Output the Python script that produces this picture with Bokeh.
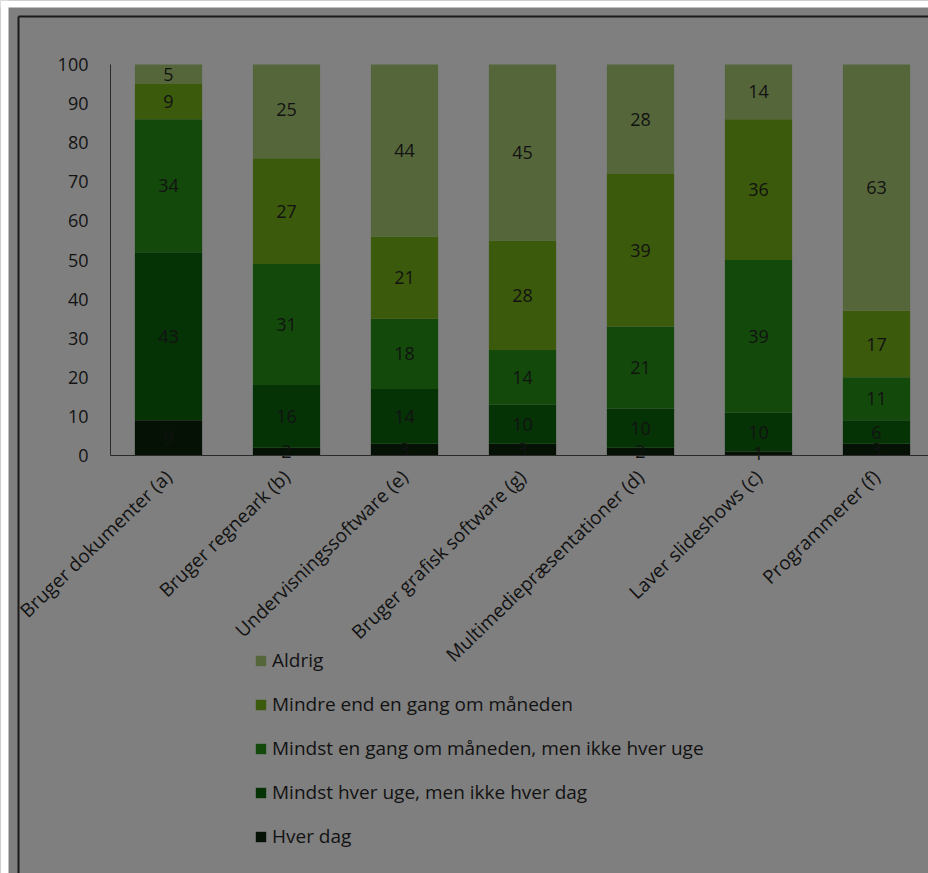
from bokeh.plotting import figure
from bokeh.models import Range1d, FixedTicker, Legend, LegendItem, ColumnDataSource
from bokeh.core.properties import value
from bokeh.embed import file_html
from bokeh.resources import INLINE

categories = ["Bruger dokumenter (a)", "Bruger regneark (b)", "Undervisningssoftware (e)",
              "Bruger grafisk software (g)", "Multimediepræsentationer (d)",
              "Laver slideshows (c)", "Programmerer (f)"]
series_names = ["Hver dag", "Mindst hver uge, men ikke hver dag",
                "Mindst en gang om måneden, men ikke hver uge",
                "Mindre end en gang om måneden", "Aldrig"]
hver_dag = [9, 2, 3, 3, 2, 1, 3]
hver_uge = [43, 16, 14, 10, 10, 10, 6]
hver_maaned = [34, 31, 18, 14, 21, 39, 11]
mindre_end_maaned = [9, 27, 21, 28, 39, 36, 17]
aldrig = [5, 25, 44, 45, 28, 14, 63]
y_ticks = [0, 10, 20, 30, 40, 50, 60, 70, 80, 90, 100]

series = [hver_dag, hver_uge, hver_maaned, mindre_end_maaned, aldrig]
colors = ["#041104", "#063306", "#134a0b", "#3c5a0c", "#56663b"]
BG = "#7f7f7f"
FONT = "Open Sans"
TXT = "#121212"
BORDER = "#1a1a1a"

# layout in canvas pixels (the frame covers the whole canvas)
fig_w, fig_h = 928, 873
unit = 118.0            # px per category
first_center = 168.0    # px of first category centre
axis_px = 110.0         # px of the value axis line
zero_px, top_px = 455.0, 64.0
border_x_px, border_y_px = 18.0, 16.0
white_x_px, white_y_px = 8.0, 7.0
ppv = (zero_px - top_px) / 100.0

def xd(px):
    return (px - first_center) / unit

def yd(py):
    return (zero_px - py) / ppv

x0, x1 = xd(0), xd(fig_w)
y0, y1 = yd(fig_h), yd(0)

xs = list(range(len(categories)))

p = figure(width=fig_w, height=fig_h, output_backend="svg", toolbar_location=None,
           x_range=Range1d(x0, x1), y_range=Range1d(y0, y1),
           min_border_left=0, min_border_top=0, min_border_right=0, min_border_bottom=0)
p.background_fill_color = BG
p.border_fill_color = BG
p.outline_line_color = None
p.xgrid.grid_line_color = None
p.ygrid.grid_line_color = None

# white page strips (top/left) and chart border (top and left edges)
p.quad(left=[x0, x0], right=[xd(white_x_px), x1], bottom=[y0, yd(white_y_px)], top=[y1, y1],
       fill_color="white", line_color=None)
bx, by = xd(border_x_px), yd(border_y_px)
p.segment(x0=[bx, bx], y0=[y0, by], x1=[bx, x1], y1=[by, by],
          line_color=BORDER, line_width=2)

renderers = []
bottoms = [0] * len(xs)
lx, ly, lt = [], [], []
for vals, col in zip(series, colors):
    tops = [min(b + v, 100) for b, v in zip(bottoms, vals)]
    src = ColumnDataSource(dict(x=xs, bottom=bottoms, top=tops))
    r = p.vbar(x="x", bottom="bottom", top="top", width=0.57, source=src,
               fill_color=col, line_color=None)
    renderers.append(r)
    for x, b, v in zip(xs, bottoms, vals):
        lx.append(x)
        ly.append(b + v / 2)
        lt.append(str(v))
    bottoms = tops

p.text(x=lx, y=ly, text=lt, text_align="center", text_baseline="middle",
       text_font=value(FONT), text_font_size="18px", text_color=TXT)

ax_x = xd(axis_px)
p.yaxis.fixed_location = ax_x
p.yaxis.ticker = FixedTicker(ticks=y_ticks)
p.yaxis.bounds = (0, 100)
p.yaxis.major_tick_line_color = None
p.yaxis.minor_tick_line_color = None
p.yaxis.axis_line_color = "#2a2a2a"
p.yaxis.major_label_text_font = FONT
p.yaxis.major_label_text_font_size = "18px"
p.yaxis.major_label_text_color = TXT
p.yaxis.major_label_standoff = 16

p.xaxis.fixed_location = 0
p.xaxis.bounds = (ax_x, x1)
p.xaxis.ticker = FixedTicker(ticks=xs)
p.xaxis.major_label_overrides = {i: c for i, c in enumerate(categories)}
p.xaxis.major_tick_line_color = None
p.xaxis.minor_tick_line_color = None
p.xaxis.axis_line_color = "#2a2a2a"
p.xaxis.major_label_text_font = FONT
p.xaxis.major_label_text_font_size = "19px"
p.xaxis.major_label_text_color = TXT
p.xaxis.major_label_orientation = 0.767
p.xaxis.major_label_standoff = 12

items = [LegendItem(label=n, renderers=[r]) for n, r in zip(series_names, renderers)]
items.reverse()
legend = Legend(items=items, location=(254, 24), orientation="vertical",
                background_fill_alpha=0, border_line_color=None,
                label_text_font=FONT, label_text_font_size="19px", label_text_color=TXT,
                glyph_width=13, glyph_height=13, label_height=22, spacing=18,
                label_standoff=5, padding=0, margin=0)
p.add_layout(legend, "center")

open("out.html", "w").write(file_html(p, INLINE))
